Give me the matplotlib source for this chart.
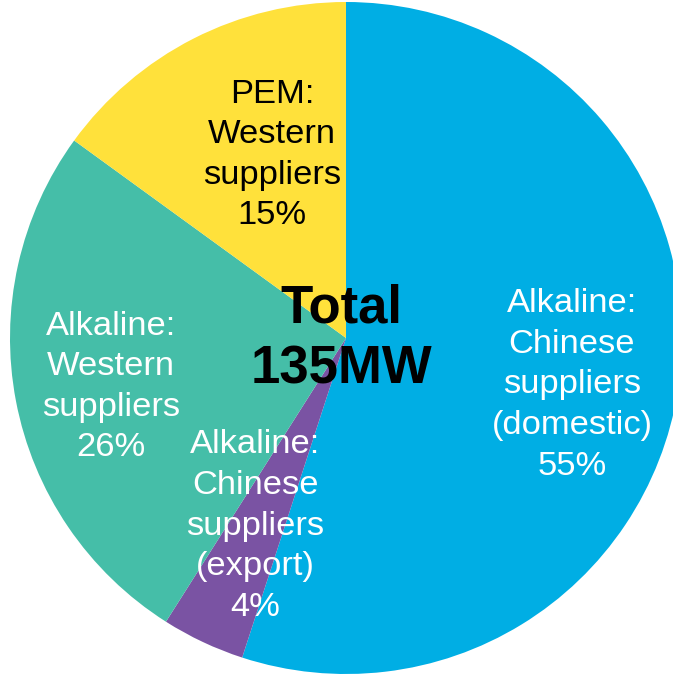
import matplotlib.pyplot as plt

# electrolyser shipments by supplier group, share of 135MW
labels = [
    "Alkaline:\nChinese\nsuppliers\n(domestic)\n55%",
    "Alkaline:\nChinese\nsuppliers\n(export)\n4%",
    "Alkaline:\nWestern\nsuppliers\n26%",
    "PEM:\nWestern\nsuppliers\n15%",
]
shares = [55, 4, 26, 15]
colors = ["#00AEE4", "#7A53A3", "#45BEA8", "#FFE13B"]
text_colors = ["white", "white", "white", "black"]
label_pos = [(572, 385), (255, 526), (111, 387), (272, 155)]

plt.rcParams['font.family'] = ['Liberation Sans', 'DejaVu Sans']

fig = plt.figure(figsize=(6.73, 6.75), dpi=100)
ax = fig.add_axes([0, 0, 1, 1])

ax.pie(shares, colors=colors, startangle=90, counterclock=False,
       center=(346, 675 - 338), radius=336, frame=True,
       wedgeprops=dict(linewidth=0))
ax.set_xlim(0, 673)
ax.set_ylim(0, 675)
ax.set_aspect('equal')
ax.axis('off')

for txt, col, (x, y) in zip(labels, text_colors, label_pos):
    ax.text(x, 675 - y, txt, color=col, fontsize=24.8, ha='center',
            va='center', linespacing=1.4)

ax.text(341, 675 - 339, "Total\n135MW", color='black', fontsize=38,
        fontweight='bold', ha='center', va='center', linespacing=1.28)

fig.savefig("out.png", dpi=100)
